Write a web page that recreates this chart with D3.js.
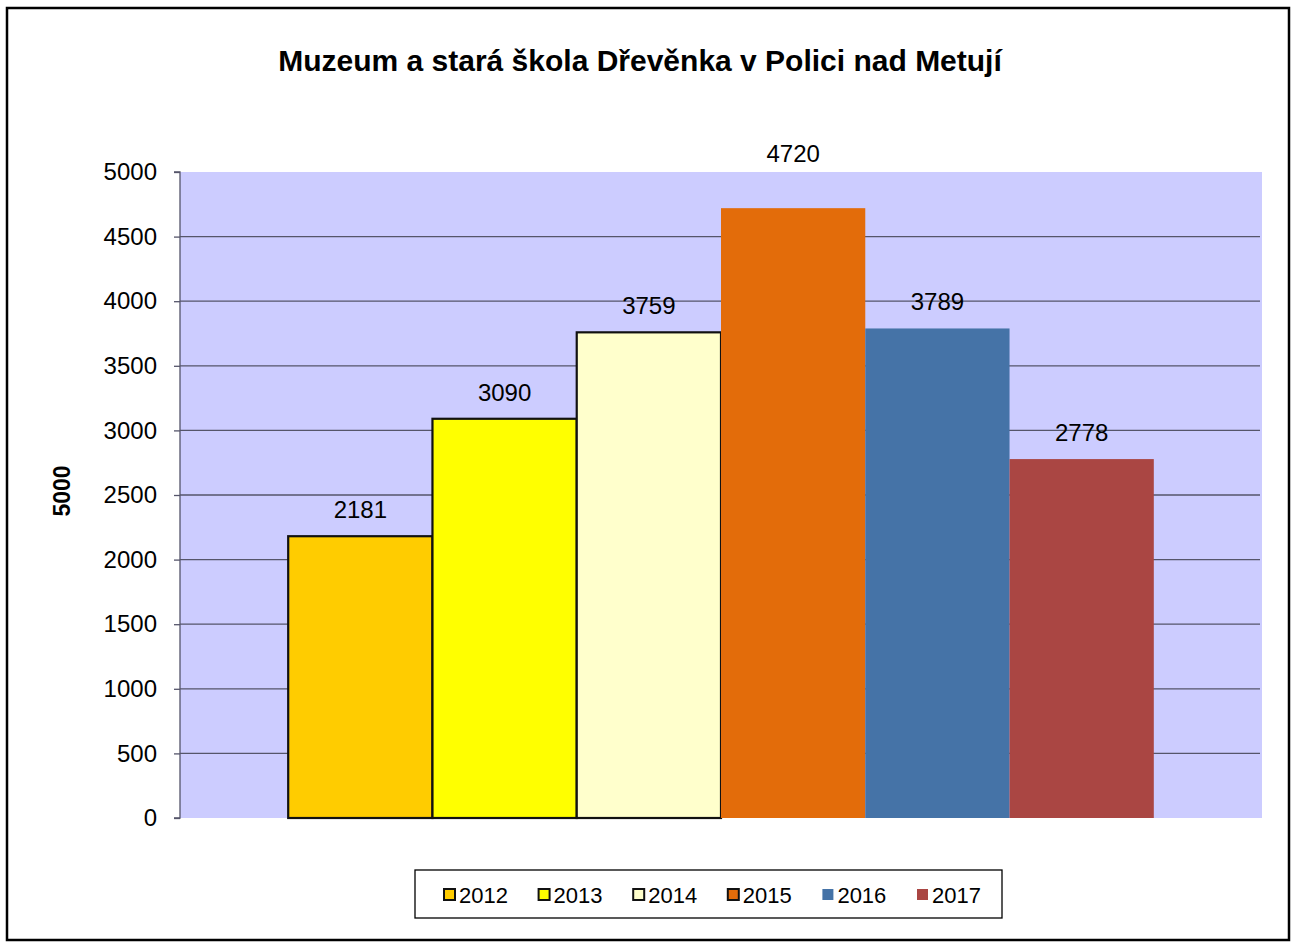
<!DOCTYPE html>
<html>
<head>
<meta charset="utf-8">
<script src="https://cdn.jsdelivr.net/npm/d3@7"></script>
<style>
  body { margin: 0; background: #fff; }
  svg { font-family: "Liberation Sans", Arial, sans-serif; }
</style>
</head>
<body>
<svg id="chart" width="1296" height="942"></svg>
<script>
const title = 'Muzeum a stará škola Dřevěnka v Polici nad Metují';
const yTitle = '5000';
const years = ['2012', '2013', '2014', '2015', '2016', '2017'];
const visitors = [2181, 3090, 3759, 4720, 3789, 2778];
const colors = ['#FFCC00', '#FFFF00', '#FFFFCC', '#E36C0A', '#4573A7', '#AA4643'];
const outlined = [true, true, true, false, false, false];
const yTicks = [0, 500, 1000, 1500, 2000, 2500, 3000, 3500, 4000, 4500, 5000];

const svg = d3.select('#chart');
const plot = { left: 180, top: 172, right: 1262, bottom: 818 };

// outer frame
svg.append('rect')
   .attr('x', 7).attr('y', 8)
   .attr('width', 1282).attr('height', 932)
   .attr('fill', '#fff').attr('stroke', '#000').attr('stroke-width', 2.5);

svg.append('text')
   .attr('x', 640).attr('y', 71)
   .attr('text-anchor', 'middle')
   .attr('font-size', 30).attr('font-weight', 'bold')
   .text(title);

const y = d3.scaleLinear().domain([0, 5000]).range([plot.bottom, plot.top]);
// single category; series bands with Excel-like gap width 150%
const gap = (plot.right - plot.left) * 1.5 / (years.length + 1.5);
const x = d3.scaleBand().domain(years)
            .range([plot.left + gap / 2, plot.right - gap / 2]);

svg.append('rect')
   .attr('x', plot.left).attr('y', plot.top)
   .attr('width', plot.right - plot.left).attr('height', plot.bottom - plot.top)
   .attr('fill', '#CCCCFF');

// gridlines
svg.append('g')
   .selectAll('line')
   .data(yTicks.filter(d => d > 0 && d < 5000))
   .enter().append('line')
     .attr('x1', plot.left).attr('x2', plot.right - 2)
     .attr('y1', d => y(d)).attr('y2', d => y(d))
     .attr('stroke', '#55556a').attr('stroke-width', 1.3);

// bars
svg.append('g')
   .selectAll('rect')
   .data(years)
   .enter().append('rect')
     .attr('x', d => x(d))
     .attr('y', (d, i) => y(visitors[i]))
     .attr('width', x.bandwidth())
     .attr('height', (d, i) => y(0) - y(visitors[i]))
     .attr('fill', (d, i) => colors[i])
     .attr('stroke', (d, i) => outlined[i] ? '#111' : 'none')
     .attr('stroke-width', 2.2);

// value labels (the tallest one was pushed up above the plot area)
svg.append('g')
   .selectAll('text')
   .data(years)
   .enter().append('text')
     .attr('x', d => x(d) + x.bandwidth() / 2)
     .attr('y', (d, i) => y(visitors[i]) - (visitors[i] > 4500 ? 46 : 18))
     .attr('text-anchor', 'middle')
     .attr('font-size', 24)
     .text((d, i) => visitors[i]);

// y axis
const yAxis = svg.append('g')
   .attr('transform', `translate(${plot.left},0)`)
   .call(d3.axisLeft(y).tickValues(yTicks).tickFormat(d3.format('d'))
           .tickSize(6).tickPadding(17));
yAxis.select('.domain').attr('stroke', '#55556a').attr('stroke-width', 1.3)
     .attr('d', `M-6,${plot.top}H0V${plot.bottom}H-6`);
yAxis.selectAll('.tick line').attr('stroke', '#55556a').attr('stroke-width', 1.3);
yAxis.selectAll('.tick text').attr('font-size', 24).attr('fill', '#000')
     .attr('font-family', '"Liberation Sans", Arial, sans-serif');

svg.append('text')
   .attr('transform', 'translate(70,491) rotate(-90)')
   .attr('text-anchor', 'middle')
   .attr('font-size', 23).attr('font-weight', 'bold')
   .text(yTitle);

// legend
svg.append('rect')
   .attr('x', 415).attr('y', 870)
   .attr('width', 587).attr('height', 48)
   .attr('fill', '#fff').attr('stroke', '#000').attr('stroke-width', 1.3);

const legend = svg.append('g')
   .selectAll('g')
   .data(years)
   .enter().append('g')
     .attr('transform', (d, i) => `translate(${444 + i * 94.6},895)`);

legend.append('rect')
   .attr('x', 0).attr('y', -6)
   .attr('width', 11).attr('height', 11)
   .attr('fill', (d, i) => colors[i])
   .attr('stroke', (d, i) => outlined[i] || i === 3 ? '#111' : 'none')
   .attr('stroke-width', 2);

legend.append('text')
   .attr('x', 15).attr('y', 8)
   .attr('font-size', 22)
   .text(d => d);
</script>
</body>
</html>
